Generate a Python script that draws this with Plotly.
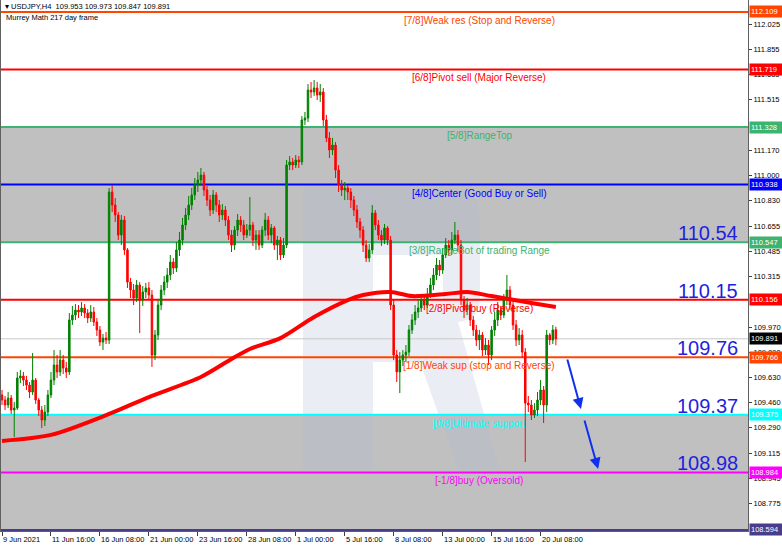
import pandas as pd
import plotly.graph_objects as go

# ---------------------------------------------------------------- data
symbol = "USDJPY,H4"
indicator_title = "Murrey Math 217 day frame"

# H4 bars from 9 Jun 2021 00:00 (weekdays only)
opens = [
    109.510, 109.476, 109.442, 109.489, 109.408, 109.421, 109.625, 109.639, 109.611, 109.577,
    109.530, 109.611, 109.476, 109.408, 109.340, 109.394, 109.510, 109.611, 109.713, 109.666,
    109.747, 109.693, 109.666, 110.019, 110.052, 110.086, 110.073, 110.100, 110.066, 110.032,
    110.073, 110.005, 109.951, 109.869, 109.896, 109.883, 110.887, 110.799, 110.731, 110.595,
    110.697, 110.494, 110.276, 110.222, 110.168, 110.256, 110.154, 110.209, 110.236, 110.188,
    109.781, 109.917, 110.120, 110.222, 110.276, 110.324, 110.412, 110.371, 110.494, 110.561,
    110.663, 110.731, 110.799, 110.867, 110.935, 110.969, 111.002, 110.901, 110.833, 110.765,
    110.867, 110.799, 110.731, 110.765, 110.697, 110.595, 110.527, 110.629, 110.697, 110.663,
    110.595, 110.629, 110.663, 110.561, 110.595, 110.527, 110.629, 110.697, 110.595, 110.643,
    110.527, 110.561, 110.460, 110.527, 111.070, 111.091, 111.070, 111.104, 111.091, 111.376,
    111.389, 111.579, 111.566, 111.593, 111.545, 111.566, 111.376, 111.254, 111.172, 111.206,
    111.036, 110.935, 110.901, 110.914, 110.887, 110.833, 110.765, 110.684, 110.629, 110.527,
    110.439, 110.494, 110.745, 110.663, 110.595, 110.561, 110.643, 110.561, 110.120, 109.781,
    109.666, 109.747, 109.781, 109.801, 109.951, 110.019, 110.073, 110.100, 110.154, 110.120,
    110.188, 110.256, 110.324, 110.392, 110.358, 110.460, 110.527, 110.494, 110.561, 110.595,
    110.527, 110.154, 110.086, 110.120, 110.019, 109.951, 109.883, 109.917, 109.815, 109.849,
    109.781, 109.951, 110.019, 110.086, 110.052, 110.154, 110.222, 110.120, 109.985, 109.883,
    109.917, 109.801, 109.455, 109.442, 109.374, 109.408, 109.476, 109.544, 109.442, 109.917,
    109.883, 109.953,
]
highs = [
    109.544, 109.503, 109.530, 109.510, 109.462, 109.666, 109.679, 109.666, 109.639, 109.598,
    109.795, 109.625, 109.489, 109.435, 109.442, 109.544, 109.666, 109.815, 109.781, 109.815,
    109.781, 109.734, 110.066, 110.114, 110.127, 110.120, 110.141, 110.127, 110.093, 110.120,
    110.107, 110.032, 109.978, 109.924, 109.937, 110.914, 110.935, 110.846, 110.751, 110.731,
    110.724, 110.507, 110.304, 110.263, 110.290, 110.276, 110.249, 110.270, 110.276, 110.222,
    109.951, 110.154, 110.256, 110.317, 110.371, 110.460, 110.439, 110.548, 110.616, 110.711,
    110.779, 110.860, 110.914, 110.982, 111.023, 111.050, 111.023, 110.928, 110.867, 110.901,
    110.887, 110.833, 110.806, 110.792, 110.724, 110.629, 110.656, 110.738, 110.724, 110.697,
    110.670, 110.853, 110.684, 110.629, 110.629, 110.656, 110.745, 110.724, 110.670, 110.656,
    110.589, 110.582, 110.575, 111.104, 111.131, 111.118, 111.138, 111.131, 111.403, 111.430,
    111.620, 111.634, 111.647, 111.634, 111.620, 111.593, 111.410, 111.294, 111.254, 111.226,
    111.070, 110.969, 110.955, 110.935, 110.914, 110.860, 110.799, 110.711, 110.656, 110.561,
    110.534, 110.799, 110.765, 110.697, 110.629, 110.670, 110.656, 110.589, 110.154, 109.815,
    109.801, 109.815, 109.849, 109.985, 110.059, 110.120, 110.154, 110.188, 110.181, 110.236,
    110.304, 110.371, 110.439, 110.426, 110.507, 110.575, 110.561, 110.616, 110.684, 110.629,
    110.561, 110.181, 110.168, 110.141, 110.046, 109.985, 109.951, 109.937, 109.896, 109.883,
    109.978, 110.073, 110.141, 110.114, 110.195, 110.324, 110.249, 110.154, 110.019, 109.964,
    109.951, 109.829, 109.503, 109.476, 109.455, 109.530, 109.611, 109.571, 109.951, 109.930,
    109.985, 109.973,
]
lows = [
    109.442, 109.408, 109.421, 109.381, 109.225, 109.408, 109.591, 109.571, 109.544, 109.489,
    109.510, 109.449, 109.367, 109.286, 109.299, 109.367, 109.489, 109.577, 109.625, 109.639,
    109.652, 109.625, 109.645, 109.985, 110.019, 110.032, 110.046, 110.032, 109.998, 110.005,
    109.978, 109.910, 109.842, 109.815, 109.856, 109.856, 110.751, 110.684, 110.561, 110.527,
    110.460, 110.236, 110.168, 110.120, 110.141, 109.930, 110.114, 110.168, 110.154, 109.700,
    109.747, 109.883, 110.086, 110.188, 110.236, 110.290, 110.331, 110.344, 110.453, 110.527,
    110.629, 110.697, 110.765, 110.833, 110.887, 110.928, 110.860, 110.792, 110.724, 110.738,
    110.751, 110.684, 110.697, 110.656, 110.561, 110.480, 110.494, 110.589, 110.616, 110.561,
    110.575, 110.589, 110.521, 110.494, 110.494, 110.507, 110.589, 110.561, 110.541, 110.494,
    110.426, 110.426, 110.439, 110.507, 111.036, 111.036, 111.050, 111.050, 111.070, 111.342,
    111.362, 111.525, 111.539, 111.511, 111.498, 111.335, 111.226, 111.118, 111.138, 110.982,
    110.887, 110.860, 110.833, 110.833, 110.779, 110.724, 110.643, 110.575, 110.480, 110.412,
    110.412, 110.466, 110.629, 110.561, 110.521, 110.534, 110.527, 110.086, 109.747, 109.598,
    109.523, 109.706, 109.734, 109.774, 109.924, 109.985, 110.032, 110.073, 110.086, 110.100,
    110.168, 110.222, 110.290, 110.317, 110.331, 110.439, 110.453, 110.460, 110.534, 110.480,
    110.120, 110.032, 110.052, 109.978, 109.910, 109.842, 109.815, 109.774, 109.781, 109.713,
    109.747, 109.910, 109.978, 110.019, 110.032, 110.120, 110.086, 109.951, 109.842, 109.849,
    109.761, 109.055, 109.394, 109.340, 109.354, 109.367, 109.442, 109.320, 109.394, 109.849,
    109.856, 109.847,
]
closes = [
    109.476, 109.442, 109.489, 109.408, 109.421, 109.625, 109.639, 109.611, 109.577, 109.530,
    109.611, 109.476, 109.408, 109.340, 109.394, 109.510, 109.611, 109.713, 109.666, 109.747,
    109.693, 109.666, 110.019, 110.052, 110.086, 110.073, 110.100, 110.066, 110.032, 110.073,
    110.005, 109.951, 109.869, 109.896, 109.883, 110.887, 110.799, 110.731, 110.595, 110.697,
    110.494, 110.276, 110.222, 110.168, 110.256, 110.154, 110.209, 110.236, 110.188, 109.781,
    109.917, 110.120, 110.222, 110.276, 110.324, 110.412, 110.371, 110.494, 110.561, 110.663,
    110.731, 110.799, 110.867, 110.935, 110.969, 111.002, 110.901, 110.833, 110.765, 110.867,
    110.799, 110.731, 110.765, 110.697, 110.595, 110.527, 110.629, 110.697, 110.663, 110.595,
    110.629, 110.663, 110.561, 110.595, 110.527, 110.629, 110.697, 110.595, 110.643, 110.527,
    110.561, 110.460, 110.527, 111.070, 111.091, 111.070, 111.104, 111.091, 111.376, 111.389,
    111.579, 111.566, 111.593, 111.545, 111.566, 111.376, 111.254, 111.172, 111.206, 111.036,
    110.935, 110.901, 110.914, 110.887, 110.833, 110.765, 110.684, 110.629, 110.527, 110.439,
    110.494, 110.745, 110.663, 110.595, 110.561, 110.643, 110.561, 110.120, 109.781, 109.666,
    109.747, 109.781, 109.801, 109.951, 110.019, 110.073, 110.100, 110.154, 110.120, 110.188,
    110.256, 110.324, 110.392, 110.358, 110.460, 110.527, 110.494, 110.561, 110.595, 110.527,
    110.154, 110.086, 110.120, 110.019, 109.951, 109.883, 109.917, 109.815, 109.849, 109.781,
    109.951, 110.019, 110.086, 110.052, 110.154, 110.222, 110.120, 109.985, 109.883, 109.917,
    109.801, 109.455, 109.442, 109.374, 109.408, 109.476, 109.544, 109.442, 109.917, 109.883,
    109.951, 109.891,
]

# moving average (bar number -> value)
ma_bars = [0, 16, 35, 48, 65, 75, 81, 91, 102, 113, 118, 127, 134, 145, 152, 160, 173, 181]
ma_values = [109.198, 109.239, 109.381, 109.496, 109.632, 109.754, 109.822, 109.896, 110.039,
             110.154, 110.188, 110.209, 110.181, 110.195, 110.209, 110.181, 110.134, 110.107]

# Murrey Math levels
level_prices = [112.109, 111.719, 111.328, 110.938, 110.547, 110.156, 109.766, 109.375, 108.984, 108.594]
level_names = [
    "[7/8]Weak res (Stop and Reverse)",
    "[6/8]Pivot sell (Major Reverse)",
    "[5/8]RangeTop",
    "[4/8]Center (Good Buy or Sell)",
    "[3/8]RangeBot of trading Range",
    "[2/8]Pivot buy (Reverse)",
    "[1/8]Weak sup (stop and Reverse)",
    "[0/8]Ultimate support",
    "[-1/8]buy (Oversold)",
    "",
]
level_colors = ["#FF4500", "#FF0000", "#3CB371", "#0000FF", "#3CB371",
                "#FF0000", "#FF4500", "#00FFFF", "#FF00FF", "#483D8B"]

# key levels marked on the right
target_prices = [110.54, 110.15, 109.76, 109.37, 108.98]

# forecast path (head of each arrow)
forecast_bars = [189.2, 194.8]
forecast_prices = [109.415, 109.008]

# time axis labels
tick_bars = [0, 16, 32, 48, 64, 80, 96, 112, 128, 144, 160, 176]
tick_labels = ["9 Jun 2021", "11 Jun 16:00", "16 Jun 08:00", "21 Jun 00:00", "23 Jun 16:00",
               "28 Jun 08:00", "1 Jul 00:00", "5 Jul 16:00", "8 Jul 08:00", "13 Jul 00:00",
               "15 Jul 16:00", "20 Jul 08:00"]

price_ticks = [112.025, 111.855, 111.685, 111.515, 111.170, 111.000, 110.830,
               110.655, 110.485, 110.315, 109.970, 109.800, 109.630, 109.460,
               109.290, 109.115, 108.945, 108.775]

# ---------------------------------------------------------------- figure
FONT = "Liberation Sans, Arial, sans-serif"
W, H = 782, 547
ML, MR, MT, MB = 1, 34, 0, 16
PW, PH = W - ML - MR, H - MT - MB

times = pd.date_range("2021-06-09", periods=400, freq="4h")
times = times[times.dayofweek < 5][:len(closes)]
bars = list(range(len(closes)))

fig = go.Figure()

fig.add_trace(go.Candlestick(
    x=bars, open=opens, high=highs, low=lows, close=closes,
    text=[t.strftime("%d %b %H:%M") for t in times], hoverinfo="x+y+text",
    increasing=dict(line=dict(color="#008000", width=1), fillcolor="#008000"),
    decreasing=dict(line=dict(color="#FF0000", width=1), fillcolor="#FF0000"),
    whiskerwidth=0,
))

fig.add_trace(go.Scatter(
    x=ma_bars, y=ma_values, mode="lines",
    line=dict(color="#FF0000", width=4, shape="spline", smoothing=0.8),
    hoverinfo="skip",
))

shapes = []
# shaded trading ranges
for top, bottom in [(level_prices[2], level_prices[4]), (level_prices[7], level_prices[9])]:
    shapes.append(dict(type="rect", xref="paper", yref="y", x0=0, x1=1, y0=bottom, y1=top,
                       fillcolor="#C0C0C0", line=dict(width=0), layer="below"))


# faint logo watermark, drawn in page pixels of the plot area
def pp(x, y):
    return f"{(x - ML) / PW:.4f},{1 - (y - MT) / PH:.4f}"


logo = (f"M{pp(303,188)} L{pp(450,188)} Q{pp(480,188)} {pp(480,218)} L{pp(480,298)} "
        f"Q{pp(480,320)} {pp(458,322)} L{pp(500,470)} L{pp(458,470)} L{pp(420,362)} "
        f"L{pp(373,362)} L{pp(373,470)} L{pp(303,470)} Z "
        f"M{pp(373,255)} L{pp(373,300)} L{pp(443,300)} L{pp(443,255)} Z")
shapes.append(dict(type="path", xref="paper", yref="paper", path=logo,
                   fillcolor="rgba(175,188,212,0.26)", line=dict(width=0), layer="below"))

# current price line
shapes.append(dict(type="line", xref="paper", yref="y", x0=0, x1=1, y0=closes[-1], y1=closes[-1],
                   line=dict(color="#C8C8C8", width=1), layer="below"))

# Murrey Math lines
for price, color in zip(level_prices, level_colors):
    shapes.append(dict(type="line", xref="paper", yref="y", x0=0, x1=1, y0=price, y1=price,
                       line=dict(color=color, width=2), layer="below"))

annotations = []

# level captions
for price, name, color in zip(level_prices, level_names, level_colors):
    if name:
        annotations.append(dict(xref="paper", yref="y", x=0.64, y=price, text=name,
                                xanchor="center", yanchor="top", yshift=-1, showarrow=False,
                                font=dict(family=FONT, size=10, color=color)))

# big target numbers
for price in target_prices:
    annotations.append(dict(xref="paper", yref="y", x=0.9895, y=price, text=f"{price:.2f}",
                            xanchor="right", yanchor="bottom", yshift=-3, showarrow=False,
                            font=dict(family=FONT, size=20, color="#1F1FE0")))

# forecast arrows
for bx, by, dx, dy in zip(forecast_bars, forecast_prices, [-14, -14], [-51, -50]):
    annotations.append(dict(xref="x", yref="y", x=bx, y=by, ax=dx, ay=dy, text="",
                            showarrow=True, arrowhead=2, arrowsize=1.1, arrowwidth=2,
                            arrowcolor="#1030F0"))

# price boxes on the axis
box_prices = level_prices[:6] + [closes[-1]] + level_prices[6:]
box_colors = level_colors[:6] + ["#000000"] + level_colors[6:]
for price, color in zip(box_prices, box_colors):
    annotations.append(dict(xref="paper", yref="y", x=1, y=price, text=f"{price:.3f}",
                            xanchor="left", yanchor="middle", xshift=1, showarrow=False,
                            bgcolor=color, borderpad=1, width=30, align="left",
                            font=dict(family=FONT, size=7.5, color="white")))

# time labels, left-aligned at their ticks
for b, lab in zip(tick_bars, tick_labels):
    annotations.append(dict(xref="x", yref="paper", x=b, y=0, text=lab, xanchor="left",
                            yanchor="top", yshift=-2, xshift=-1, showarrow=False,
                            font=dict(family=FONT, size=7.5, color="black")))

# header
annotations.append(dict(xref="paper", yref="paper", x=0, y=1, xanchor="left", yanchor="top",
                        xshift=2, yshift=0, showarrow=False,
                        text=(f"▾ {symbol}  {opens[-1]:.3f} {highs[-1]:.3f} "
                              f"{lows[-1]:.3f} {closes[-1]:.3f}"),
                        font=dict(family=FONT, size=7.5, color="black")))
annotations.append(dict(xref="paper", yref="paper", x=0, y=1, xanchor="left", yanchor="top",
                        xshift=3, yshift=-11, showarrow=False, text=indicator_title,
                        font=dict(family=FONT, size=7.5, color="black")))

bar_px = 3.06
x0 = -(2 - ML) / bar_px
y_top, y_bottom = 112.190, 108.587

fig.update_layout(
    width=W, height=H,
    margin=dict(l=ML, r=MR, t=MT, b=MB),
    paper_bgcolor="white", plot_bgcolor="white",
    showlegend=False,
    font=dict(family=FONT, size=7.5, color="black"),
    shapes=shapes, annotations=annotations,
    xaxis=dict(range=[x0, x0 + PW / bar_px], showgrid=False, zeroline=False,
               showline=True, linecolor="#606060", linewidth=1, mirror=True,
               ticks="outside", ticklen=4, tickcolor="#404040", tickvals=tick_bars,
               showticklabels=False, rangeslider=dict(visible=False), fixedrange=True),
    yaxis=dict(range=[y_bottom, y_top], side="right", showgrid=False, zeroline=False,
               showline=True, linecolor="#606060", linewidth=1, mirror=True,
               ticks="outside", ticklen=3, tickcolor="#404040",
               tickvals=price_ticks, ticktext=[f"{v:.3f}" for v in price_ticks],
               tickfont=dict(family=FONT, size=7.5, color="black"), fixedrange=True),
)

fig.write_html("out.html")
